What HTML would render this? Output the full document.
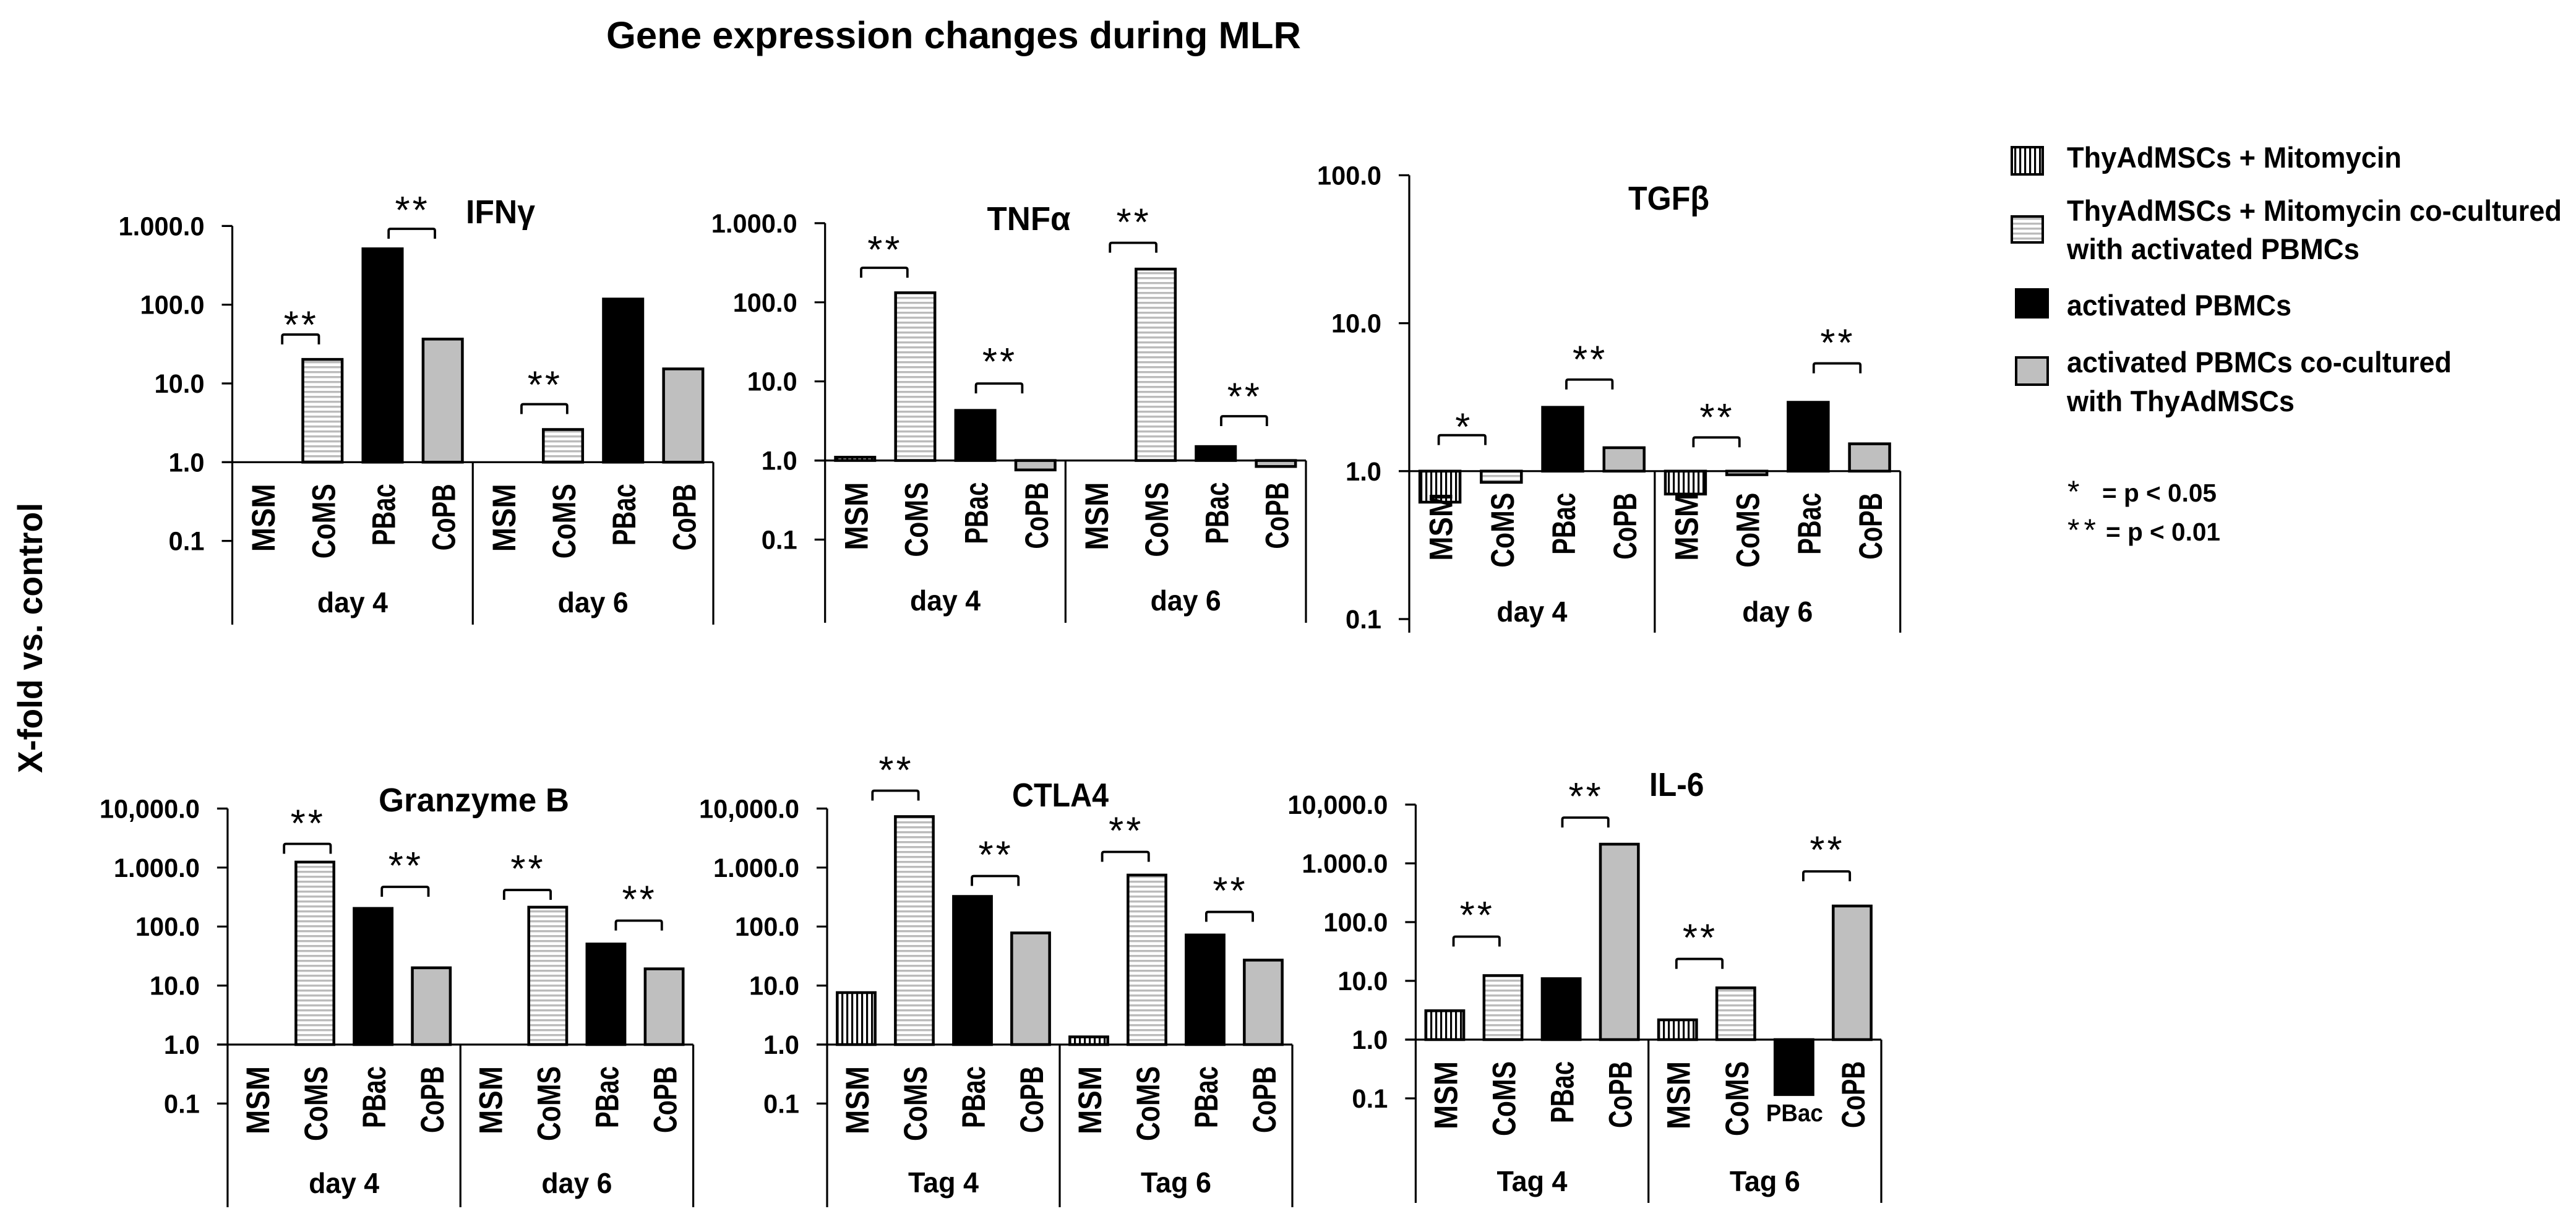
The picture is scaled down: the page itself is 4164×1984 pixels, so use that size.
<!DOCTYPE html>
<html lang="en">
<head>
<meta charset="utf-8">
<title>Gene expression changes during MLR</title>
<style>
html,body{margin:0;padding:0;background:#fff;}
svg{display:block;}
text{font-family:"Liberation Sans","DejaVu Sans",sans-serif;font-weight:bold;fill:#000;}
text.plain{font-weight:normal;}
</style>
</head>
<body>
<svg id="figure" xmlns="http://www.w3.org/2000/svg" width="4164" height="1984" viewBox="0 0 4164 1984">
  <defs>
    <pattern id="hatch-vertical" patternUnits="userSpaceOnUse" width="8" height="8">
      <rect width="8" height="8" fill="#fff"></rect>
      <rect width="3.2" height="8" fill="#000"></rect>
    </pattern>
    <pattern id="hatch-horizontal" patternUnits="userSpaceOnUse" width="8" height="8">
      <rect width="8" height="8" fill="#fff"></rect>
      <rect width="8" height="3.4" fill="#bbb"></rect>
    </pattern>
  </defs>
  <rect width="4164" height="1984" fill="#fff"></rect>

  <text x="980" y="78" font-size="61" textLength="1123" lengthAdjust="spacingAndGlyphs">Gene expression changes during MLR</text>
  <text transform="translate(68 1250) rotate(-90)" font-size="56" textLength="437" lengthAdjust="spacingAndGlyphs">X-fold vs. control</text>

  <g id="ifng-chart"></g>
  <g id="tnfa-chart"></g>
  <g id="tgfb-chart"></g>
  <g id="gzmb-chart"></g>
  <g id="ctla4-chart"></g>
  <g id="il6-chart"></g>

  <g>
    <g>
      <rect x="3252" y="238" width="50" height="44" fill="url(#hatch-vertical)" stroke="#000" stroke-width="4"></rect>
      <text x="3341" y="271" font-size="47" textLength="541" lengthAdjust="spacingAndGlyphs">ThyAdMSCs + Mitomycin</text>
    </g>
    <g>
      <rect x="3252" y="350" width="50" height="42" fill="url(#hatch-horizontal)" stroke="#000" stroke-width="4"></rect>
      <text x="3341" y="357" font-size="47" textLength="800" lengthAdjust="spacingAndGlyphs">ThyAdMSCs + Mitomycin co-cultured</text>
      <text x="3341" y="419" font-size="47" textLength="473" lengthAdjust="spacingAndGlyphs">with activated PBMCs</text>
    </g>
    <g>
      <rect x="3259" y="468" width="51" height="45" fill="#000" stroke="#000" stroke-width="4"></rect>
      <text x="3341" y="510" font-size="47" textLength="363" lengthAdjust="spacingAndGlyphs">activated PBMCs</text>
    </g>
    <g>
      <rect x="3259" y="578" width="51" height="44" fill="#bfbfbf" stroke="#000" stroke-width="4"></rect>
      <text x="3341" y="602" font-size="47" textLength="622" lengthAdjust="spacingAndGlyphs">activated PBMCs co-cultured</text>
      <text x="3341" y="665" font-size="47" textLength="368" lengthAdjust="spacingAndGlyphs">with ThyAdMSCs</text>
    </g>
  </g>

  <g>
    <text class="plain" x="3342" y="812" font-size="50">*</text>
    <text x="3398" y="811" font-size="41" textLength="185" lengthAdjust="spacingAndGlyphs">= p &lt; 0.05</text>
    <text class="plain" x="3342" y="874" font-size="50" textLength="46" lengthAdjust="spacing">**</text>
    <text x="3404" y="874" font-size="41" textLength="185" lengthAdjust="spacingAndGlyphs">= p &lt; 0.01</text>
  </g>
</svg>

<script>
/* ---------- shared categories ---------- */
const categories = ['MSM', 'CoMS', 'PBac', 'CoPB'];
const dayGroups = ['day 4', 'day 6'];
const tagGroups = ['Tag 4', 'Tag 6'];

/* ---------- axis ticks ---------- */
const ticksToThousand = [1000, 100, 10, 1, 0.1];
const ticksToThousandLabels = ['1.000.0', '100.0', '10.0', '1.0', '0.1'];
const ticksToHundred = [100, 10, 1, 0.1];
const ticksToHundredLabels = ['100.0', '10.0', '1.0', '0.1'];
const ticksToTenThousand = [10000, 1000, 100, 10, 1, 0.1];
const ticksToTenThousandLabels = ['10,000.0', '1.000.0', '100.0', '10.0', '1.0', '0.1'];

/* ---------- bar values: MSM, CoMS, PBac, CoPB for each of the two time points ---------- */
const ifngValues = [1, 20.2, 513, 36.6, 1, 2.6, 118, 15.3];
const tnfaValues = [1.1, 132, 4.3, 0.76, 1, 263, 1.5, 0.84];
const tgfbValues = [0.617, 0.84, 2.7, 1.44, 0.70, 0.946, 2.92, 1.53];
const gzmbValues = [1, 1239, 203, 20, 1, 213, 50.6, 19.2];
const ctla4Values = [7.6, 7310, 324, 78, 1.35, 746, 72, 27];
const il6Values = [3.1, 12.3, 10.9, 2120, 2.17, 7.6, 0.116, 188];

/* ---------- significance brackets: first bar slot, last bar slot, axis value of the bracket, label ---------- */
const ifngBrackets = [[0.83, 1.44, 41.8, '**'], [2.6, 3.37, 920, '**'], [4.81, 5.57, 5.45, '**']];
const tnfaBrackets = [[0.6, 1.37, 273, '**'], [2.51, 3.28, 9.4, '**'], [4.74, 5.51, 565, '**'], [6.59, 7.35, 3.63, '**']];
const tgfbBrackets = [[0.48, 1.24, 1.75, '*'], [2.56, 3.31, 4.16, '**'], [4.63, 5.38, 1.69, '**'], [6.59, 7.35, 5.35, '**']];
const gzmbBrackets = [[0.97, 1.77, 2520, '**'], [2.65, 3.45, 471, '**'], [4.75, 5.55, 417, '**'], [6.67, 7.46, 126, '**']];
const ctla4Brackets = [[0.78, 1.57, 20090, '**'], [2.49, 3.29, 718, '**'], [4.73, 5.53, 1841, '**'], [6.52, 7.32, 177, '**']];
const il6Brackets = [[0.65, 1.44, 56.6, '**'], [2.52, 3.31, 6010, '**'], [4.48, 5.27, 23.6, '**'], [6.66, 7.46, 730, '**']];

/* ---------- chart assembly (layout lives here, data lives above) ---------- */
const panels = [
  { id: 'ifng-chart', title: 'IFNγ', values: ifngValues, ticks: ticksToThousand, tickLabels: ticksToThousandLabels, groups: dayGroups, brackets: ifngBrackets,
    box: { left: 375.5, right: 1153, one: 747.3, decade: 127.3, bottom: 1010, groupBase: 990 },
    titleBox: { x: 753, y: 361, len: 112 }, lifts: [24, 39, 40], flat: [] },
  { id: 'tnfa-chart', title: 'TNFα', values: tnfaValues, ticks: ticksToThousand, tickLabels: ticksToThousandLabels, groups: dayGroups, brackets: tnfaBrackets,
    box: { left: 1333.7, right: 2111, one: 744.6, decade: 127.9, bottom: 1007, groupBase: 987 },
    titleBox: { x: 1595.5, y: 372, len: 135 }, lifts: [38, 44, 42, 40], flat: [] },
  { id: 'tgfb-chart', title: 'TGFβ', values: tgfbValues, ticks: ticksToHundred, tickLabels: ticksToHundredLabels, groups: dayGroups, brackets: tgfbBrackets,
    box: { left: 2278, right: 3071.7, one: 761.8, decade: 239.2, bottom: 1023, groupBase: 1005 },
    titleBox: { x: 2632, y: 339, len: 131 }, lifts: [22, 41, 41, 42], flat: [] },
  { id: 'gzmb-chart', title: 'Granzyme B', values: gzmbValues, ticks: ticksToTenThousand, tickLabels: ticksToTenThousandLabels, groups: dayGroups, brackets: gzmbBrackets,
    box: { left: 367.9, right: 1120.6, one: 1689, decade: 95.4, bottom: 1952, groupBase: 1929 },
    titleBox: { x: 612, y: 1312, len: 308 }, lifts: [42, 43, 43, 43], flat: [] },
  { id: 'ctla4-chart', title: 'CTLA4', values: ctla4Values, ticks: ticksToTenThousand, tickLabels: ticksToTenThousandLabels, groups: tagGroups, brackets: ctla4Brackets,
    box: { left: 1337, right: 2089, one: 1689, decade: 95.4, bottom: 1952, groupBase: 1928 },
    titleBox: { x: 1636, y: 1304, len: 156 }, lifts: [42, 43, 43, 43], flat: [] },
  { id: 'il6-chart', title: 'IL-6', values: il6Values, ticks: ticksToTenThousand, tickLabels: ticksToTenThousandLabels, groups: tagGroups, brackets: il6Brackets,
    box: { left: 2288.4, right: 3041, one: 1681, decade: 95, bottom: 1945, groupBase: 1926 },
    titleBox: { x: 2666, y: 1287, len: 88.5 }, lifts: [43, 43, 43, 43], flat: [6] }
];

const SVG_NS = 'http://www.w3.org/2000/svg';
const categoryLabelLength = { MSM: 110, CoMS: 121, PBac: 100, CoPB: 108 };
const categoryFill = { MSM: 'url(#hatch-vertical)', CoMS: 'url(#hatch-horizontal)', PBac: '#000', CoPB: '#bfbfbf' };

function svgEl(parent, tag, attrs, content) {
  const node = document.createElementNS(SVG_NS, tag);
  Object.keys(attrs).forEach(function (key) { node.setAttribute(key, attrs[key]); });
  if (content !== undefined) node.textContent = content;
  parent.appendChild(node);
  return node;
}

function xScale(box, slot) {
  return box.left + (box.right - box.left) / 8 * slot;
}
function yScale(box, value) {
  return box.one - Math.log10(value) * box.decade;
}

function drawTitle(root, panel) {
  const el = svgEl(root, 'text', { x: panel.titleBox.x, y: panel.titleBox.y, 'font-size': 54, textLength: panel.titleBox.len, lengthAdjust: 'spacingAndGlyphs' }, panel.title);
  
  
}

function drawBar(root, panel, index) {
  const box = panel.box;
  const slotWidth = (box.right - box.left) / 8;
  const category = categories[index % 4];
  const yValue = yScale(box, panel.values[index]);
  const top = Math.min(yValue, box.one);
  const width = slotWidth * 0.7 - 4.5;
  const el = svgEl(root, 'rect', {
    x: xScale(box, index + 0.5) - width / 2,
    y: top,
    width: width,
    height: Math.abs(yValue - box.one),
    fill: categoryFill[category],
    stroke: '#000',
    'stroke-width': 4.5
  });
  
  
  el.setAttribute('data-category', category);
}

function drawAxisLine(root, x1, y1, x2, y2) {
  const el = svgEl(root, 'line', { x1: x1, y1: y1, x2: x2, y2: y2, stroke: '#000', 'stroke-width': 3.2 });
  
  
}

function drawTick(root, panel, index) {
  const box = panel.box;
  const y = yScale(box, panel.ticks[index]);
  const mark = svgEl(root, 'line', { x1: box.left - 17, y1: y, x2: box.left, y2: y, stroke: '#000', 'stroke-width': 3.2 });
  
  
  const text = panel.tickLabels[index];
  const digits = text.replace(/[^0-9]/g, '').length;
  const label = svgEl(root, 'text', {
    x: box.left - 45,
    y: y + 15,
    'font-size': 43,
    'text-anchor': 'end',
    textLength: digits * 23 + (text.length - digits) * 12,
    lengthAdjust: 'spacingAndGlyphs'
  }, text);
  
  
}

function drawCategoryLabel(root, panel, index) {
  const box = panel.box;
  const category = categories[index % 4];
  const center = xScale(box, index + 0.5) + 2;
  if (panel.flat.indexOf(index) >= 0) {
    const flat = svgEl(root, 'text', {
      x: center - 1, y: box.one + 132, 'font-size': 39, 'text-anchor': 'middle',
      textLength: 92, lengthAdjust: 'spacingAndGlyphs'
    }, category);
    
    
    return;
  }
  const baselineX = center + 18;
  const topY = box.one + 35;
  const el = svgEl(root, 'text', {
    transform: 'rotate(-90 ' + baselineX + ' ' + topY + ')',
    x: baselineX, y: topY, 'font-size': 53, 'text-anchor': 'end',
    textLength: categoryLabelLength[category], lengthAdjust: 'spacingAndGlyphs'
  }, category);
  
  
}

function drawGroupLabel(root, panel, index) {
  const box = panel.box;
  const el = svgEl(root, 'text', {
    x: xScale(box, index * 4 + 2), y: box.groupBase, 'font-size': 46, 'text-anchor': 'middle',
    textLength: 114, lengthAdjust: 'spacingAndGlyphs'
  }, panel.groups[index]);
  
  
}

function drawBracket(root, panel, index) {
  const box = panel.box;
  const spec = panel.brackets[index];
  const x1 = xScale(box, spec[0]);
  const x2 = xScale(box, spec[1]);
  const y = yScale(box, spec[2]);
  const el = svgEl(root, 'path', {
    d: 'M' + x1 + ' ' + (y + 16) + 'V' + (y + 3) + 'Q' + x1 + ' ' + y + ' ' + (x1 + 3) + ' ' + y + 'H' + (x2 - 3) + 'Q' + x2 + ' ' + y + ' ' + x2 + ' ' + (y + 3) + 'V' + (y + 16),
    fill: 'none', stroke: '#000', 'stroke-width': 3.8
  });
  
  
  const starSize = 62;
  const stars = svgEl(root, 'text', {
    x: (x1 + x2) / 2 + 1,
    y: y - panel.lifts[index] + starSize * 0.48,
    class: 'plain',
    'font-size': starSize,
    'text-anchor': 'middle',
    'letter-spacing': spec[3].length > 1 ? 4 : 0
  }, spec[3]);
  
  
}

panels.forEach(function (panel) {
  const root = document.getElementById(panel.id);
  const box = panel.box;
  drawTitle(root, panel);
  panel.values.forEach(function (value, index) { drawBar(root, panel, index); });
  drawAxisLine(root, box.left, yScale(box, panel.ticks[0]), box.left, box.bottom);
  drawAxisLine(root, box.left - 17, box.one, box.right, box.one);
  drawAxisLine(root, xScale(box, 4), box.one, xScale(box, 4), box.bottom);
  drawAxisLine(root, box.right, box.one, box.right, box.bottom);
  panel.ticks.forEach(function (tick, index) { drawTick(root, panel, index); });
  panel.values.forEach(function (value, index) { drawCategoryLabel(root, panel, index); });
  panel.groups.forEach(function (group, index) { drawGroupLabel(root, panel, index); });
  panel.brackets.forEach(function (bracket, index) { drawBracket(root, panel, index); });
});
</script>
</body>
</html>
